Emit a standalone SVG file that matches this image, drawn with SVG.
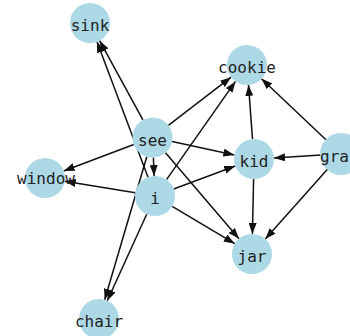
<svg xmlns="http://www.w3.org/2000/svg" width="350" height="336" viewBox="0 0 350 336">
<defs>
<style>
.e{stroke:#111;stroke-width:1.5;fill:none;marker-end:url(#ah)}
.n circle{fill:#add8e6}
.n text{font-family:"DejaVu Sans Mono","Liberation Mono",monospace;font-size:16px;fill:#222;text-anchor:middle}
</style>
<marker id="ah" markerUnits="userSpaceOnUse" markerWidth="11" markerHeight="8" refX="11" refY="4" orient="auto">
<path d="M0,0 L11,4 L0,8 z" fill="#111"/>
</marker>
</defs>
<rect width="350" height="336" fill="#fff"/>
<g id="edges">
<line class="e" x1="142.9" y1="119.9" x2="99.6" y2="40.6"/>
<line class="e" x1="148" y1="177.3" x2="97" y2="41.7"/>
<line class="e" x1="133.8" y1="144.5" x2="63.7" y2="171"/>
<line class="e" x1="153.4" y1="157.5" x2="154.1" y2="176"/>
<line class="e" x1="172.1" y1="141.6" x2="234.4" y2="154.9"/>
<line class="e" x1="165.5" y1="152.7" x2="239" y2="238.8"/>
<line class="e" x1="168.4" y1="125.3" x2="231.1" y2="77.2"/>
<line class="e" x1="146.8" y1="156.7" x2="104.7" y2="299.8"/>
<line class="e" x1="146.7" y1="214.2" x2="107.3" y2="300.8"/>
<line class="e" x1="135.3" y1="192.8" x2="64.7" y2="181.2"/>
<line class="e" x1="173.7" y1="189" x2="235.3" y2="166"/>
<line class="e" x1="172.2" y1="206.3" x2="234.8" y2="243.7"/>
<line class="e" x1="166.5" y1="179.6" x2="235.5" y2="81.4"/>
<line class="e" x1="252.5" y1="139.1" x2="248.5" y2="84.9"/>
<line class="e" x1="253.6" y1="179" x2="252.4" y2="234"/>
<line class="e" x1="326.5" y1="140.2" x2="261.5" y2="78.8"/>
<line class="e" x1="321" y1="155.1" x2="274" y2="157.9"/>
<line class="e" x1="327.7" y1="168.9" x2="265.3" y2="239.1"/>
</g>
<g id="sink" class="n"><circle cx="90" cy="23" r="20"/><text x="90" y="31">sink</text></g>
<g id="cookie" class="n"><circle cx="247" cy="65" r="20"/><text x="247" y="73">cookie</text></g>
<g id="see" class="n"><circle cx="152.5" cy="137.5" r="20"/><text x="152.5" y="145.5">see</text></g>
<g id="kid" class="n"><circle cx="254" cy="159" r="20"/><text x="254" y="167">kid</text></g>
<g id="gra" class="n"><circle cx="341" cy="154" r="21"/><text x="334.5" y="162">gra</text></g>
<g id="window" class="n"><circle cx="45" cy="178" r="20"/><text x="46" y="184">window</text></g>
<g id="i" class="n"><circle cx="155" cy="196" r="20"/><text x="155" y="204">i</text></g>
<g id="jar" class="n"><circle cx="252" cy="254" r="20"/><text x="252" y="262">jar</text></g>
<g id="chair" class="n"><circle cx="99" cy="319" r="20"/><text x="99" y="327">chair</text></g>
</svg>
